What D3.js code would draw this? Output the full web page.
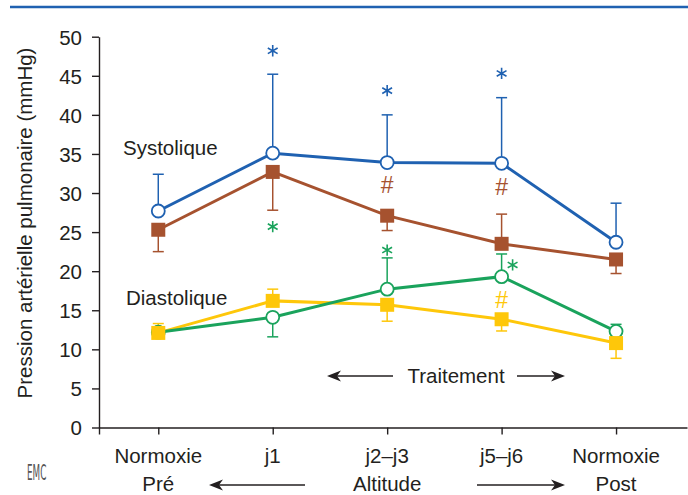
<!DOCTYPE html>
<html>
<head>
<meta charset="utf-8">
<script src="https://cdn.jsdelivr.net/npm/d3@7"></script>
<style>
  body { margin: 0; background: #fff; }
  svg text { font-family: "Liberation Sans", Arial, sans-serif; fill: #231f20; }
</style>
</head>
<body>
<div id="chart"></div>
<script>
// categories (two-line labels)
var cats = [['Normoxie', 'Pré'], ['j1', ''], ['j2–j3', ''], ['j5–j6', ''], ['Normoxie', 'Post']];
var yTicks = [0, 5, 10, 15, 20, 25, 30, 35, 40, 45, 50];

// series means
var sysCtrl = [27.7, 35.1, 33.9, 33.8, 23.7];   // blue, open circles
var sysTrt = [25.3, 32.7, 27.1, 23.5, 21.5];    // brown, squares
var diaCtrl = [12.2, 14.1, 17.7, 19.3, 12.3];   // green, open circles
var diaTrt = [12.1, 16.2, 15.7, 13.85, 10.8];   // yellow, squares

// error bar ends (one-sided)
var sysCtrlErr = [32.4, 45.2, 40.0, 42.2, 28.7];
var sysTrtErr = [22.5, 27.8, 25.2, 27.3, 19.7];
var diaCtrlErr = [null, 11.6, 21.7, 22.2, 13.2];
var diaTrtErr = [13.3, 17.7, 13.6, 12.35, 8.85];

// significance marks: [category index, value, symbol, series]
var marks = [
  [1, 48.2, '*', 'sysCtrl'], [2, 43.1, '*', 'sysCtrl'], [3, 45.3, '*', 'sysCtrl'],
  [2, 31.0, '#', 'sysTrt'], [3, 30.8, '#', 'sysTrt'],
  [1, 25.7, '*', 'diaCtrl'], [2, 22.7, '*', 'diaCtrl'], [3, 20.8, '*', 'diaCtrl'],
  [3, 16.4, '#', 'diaTrt']
];

var colors = { sysCtrl: '#1f61b1', sysTrt: '#a6522f', diaCtrl: '#1aa35c', diaTrt: '#fec70a' };

var W = 688, H = 495;
var svg = d3.select('#chart').append('svg')
  .attr('width', W).attr('height', H);

// top rule
svg.append('line')
  .attr('x1', 10).attr('x2', W).attr('y1', 7).attr('y2', 7)
  .attr('stroke', '#1f61b1').attr('stroke-width', 2.5);

// scales
var x = d3.scaleLinear().domain([-0.518, 4.62]).range([99, 687]);
var y = d3.scaleLinear().domain([0, 50]).range([427.5, 36.7]);

var fs = 20.5;

// y axis
var yAxis = svg.append('g')
  .attr('transform', 'translate(' + x(-0.518) + ',0)')
  .call(d3.axisLeft(y).tickValues(yTicks).tickSize(7).tickSizeOuter(0).tickPadding(10));
yAxis.selectAll('text').style('font-size', fs + 'px').attr('dy', '0.36em');

// x axis
var xAxis = svg.append('g')
  .attr('transform', 'translate(0,' + y(0) + ')')
  .call(d3.axisBottom(x).tickValues([-0.518, 0, 1, 2, 3, 4]).tickFormat('').tickSize(7).tickSizeOuter(0));

svg.selectAll('.domain, .tick line').attr('stroke', '#231f20').attr('stroke-width', 1.4);

// category labels
var catLab = svg.append('g').selectAll('text').data(cats).enter().append('text')
  .attr('text-anchor', 'middle')
  .style('font-size', fs + 'px');
catLab.append('tspan')
  .attr('x', function(d, i) { return x(i); })
  .attr('y', 463)
  .text(function(d) { return d[0]; });
catLab.append('tspan')
  .attr('x', function(d, i) { return x(i); })
  .attr('y', 491)
  .text(function(d) { return d[1]; });

// y axis title
svg.append('text')
  .attr('transform', 'translate(32,' + 223 + ') rotate(-90)')
  .attr('text-anchor', 'middle')
  .style('font-size', fs + 'px')
  .text('Pression artérielle pulmonaire (mmHg)');

// arrows
function arrow(x1, x2, yy) {
  var dir = x2 > x1 ? 1 : -1;
  svg.append('line')
    .attr('x1', x1).attr('x2', x2 - dir * 8).attr('y1', yy).attr('y2', yy)
    .attr('stroke', '#231f20').attr('stroke-width', 1.6);
  svg.append('path')
    .attr('d', 'M' + x2 + ',' + yy +
      'L' + (x2 - dir * 14) + ',' + (yy - 5.5) +
      'L' + (x2 - dir * 10) + ',' + yy +
      'L' + (x2 - dir * 14) + ',' + (yy + 5.5) + 'Z')
    .attr('fill', '#231f20');
}

svg.append('text').attr('x', 456).attr('y', 383)
  .attr('text-anchor', 'middle').style('font-size', fs + 'px').text('Traitement');
arrow(393, 327, 376);
arrow(517, 565, 376);

svg.append('text').attr('x', x(2)).attr('y', 491)
  .attr('text-anchor', 'middle').style('font-size', fs + 'px').text('Altitude');
arrow(305, 209, 485);
arrow(477, 565, 485);

// series labels
svg.append('text').attr('x', 123).attr('y', 155).style('font-size', fs + 'px').text('Systolique');
svg.append('text').attr('x', 126).attr('y', 305).style('font-size', fs + 'px').text('Diastolique');

// EMC logo
svg.append('text')
  .attr('transform', 'translate(27,480) scale(0.42,1)')
  .style('font-size', '21px')
  .style('font-family', 'DejaVu Sans')
  .style('fill', '#555')
  .text('EMC');

// error bars
function errBars(vals, errs, color) {
  var g = svg.append('g');
  vals.forEach(function(v, i) {
    if (errs[i] == null) return;
    g.append('line')
      .attr('x1', x(i)).attr('x2', x(i)).attr('y1', y(v)).attr('y2', y(errs[i]))
      .attr('stroke', color).attr('stroke-width', 1.5);
    g.append('line')
      .attr('x1', x(i) - 5.5).attr('x2', x(i) + 5.5).attr('y1', y(errs[i])).attr('y2', y(errs[i]))
      .attr('stroke', color).attr('stroke-width', 1.5);
  });
}
errBars(sysTrt, sysTrtErr, colors.sysTrt);
errBars(sysCtrl, sysCtrlErr, colors.sysCtrl);
errBars(diaTrt, diaTrtErr, colors.diaTrt);
errBars(diaCtrl, diaCtrlErr, colors.diaCtrl);

// lines
var line = d3.line()
  .x(function(d, i) { return x(i); })
  .y(function(d) { return y(d); });

[['sysTrt', sysTrt], ['sysCtrl', sysCtrl], ['diaTrt', diaTrt], ['diaCtrl', diaCtrl]].forEach(function(s) {
  svg.append('path').datum(s[1])
    .attr('d', line)
    .attr('fill', 'none')
    .attr('stroke', colors[s[0]])
    .attr('stroke-width', 3);
});

// markers
function circles(vals, color) {
  svg.append('g').selectAll('circle').data(vals).enter().append('circle')
    .attr('cx', function(d, i) { return x(i); })
    .attr('cy', function(d) { return y(d); })
    .attr('r', 6.5)
    .attr('fill', '#fff')
    .attr('stroke', color)
    .attr('stroke-width', 1.8);
}
function squares(vals, color) {
  svg.append('g').selectAll('rect').data(vals).enter().append('rect')
    .attr('x', function(d, i) { return x(i) - 7; })
    .attr('y', function(d) { return y(d) - 7; })
    .attr('width', 14).attr('height', 14)
    .attr('fill', color);
}
squares(sysTrt, colors.sysTrt);
circles(sysCtrl, colors.sysCtrl);
circles(diaCtrl, colors.diaCtrl);
squares(diaTrt, colors.diaTrt);

// significance marks
var star = d3.symbol().type(d3.symbolAsterisk).size(90);
marks.forEach(function(m) {
  // the last green star sits to the right of its error bar
  var dx = (m[3] === 'diaCtrl' && m[0] === 3) ? 11 : 0;
  if (m[2] === '*') {
    svg.append('path')
      .attr('d', star)
      .attr('transform', 'translate(' + (x(m[0]) + dx) + ',' + y(m[1]) + ')')
      .attr('fill', 'none')
      .attr('stroke', colors[m[3]])
      .attr('stroke-width', 1.6);
  } else {
    svg.append('text')
      .attr('x', x(m[0]) + dx).attr('y', y(m[1]))
      .attr('dy', '0.36em')
      .attr('text-anchor', 'middle')
      .style('font-size', '23px')
      .style('fill', colors[m[3]])
      .text('#');
  }
});
</script>
</body>
</html>
